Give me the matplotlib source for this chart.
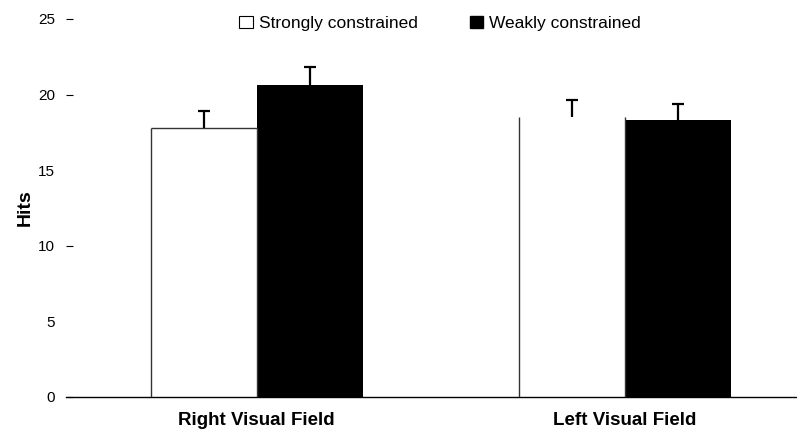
import matplotlib
matplotlib.use("Agg")
import matplotlib.pyplot as plt
import numpy as np
from matplotlib.patches import Patch

plt.rcParams['font.family'] = ['Liberation Sans', 'DejaVu Sans']

categories = ["Right Visual Field", "Left Visual Field"]
series_names = ["Strongly constrained", "Weakly constrained"]
strong = [17.8, 18.5]
strong_err = [1.1, 1.15]
weak = [20.65, 18.3]
weak_err = [1.15, 1.1]
yticks = [0, 5, 10, 15, 20, 25]
yticks_with_marks = [0, 10, 20, 25]

fig = plt.figure(figsize=(7.97, 4.32), dpi=100)
ax = fig.add_axes([66/797, 1-397/432, 1-66/797, (397-19)/432])

x = np.arange(len(categories))
w = 106/368

bs = ax.bar(x - w/2, strong, w, color="white", linewidth=0, zorder=2)
bw = ax.bar(x + w/2, weak, w, color="black", linewidth=0, zorder=2)

# outlines of the white bars (top only for first group as in reference)
for i, b in enumerate(bs):
    x0 = b.get_x()
    ax.vlines(x0, 0, strong[i], color="#333333", lw=1.0, zorder=3)
    ax.vlines(x0 + w, 0, strong[i], color="#333333", lw=1.0, zorder=3)
    if i == 0:
        ax.hlines(strong[i], x0, x0 + w, color="#333333", lw=1.0, zorder=3)

for xs, vals, errs in [(x - w/2, strong, strong_err), (x + w/2, weak, weak_err)]:
    _, caps, _ = ax.errorbar(xs, vals, yerr=[np.zeros(2), errs], fmt="none",
                             ecolor="black", elinewidth=1.6, capsize=4,
                             capthick=1.6, zorder=4)
    caps[0].set_visible(False)

ax.set_xlim(-(256.5-66)/368, (797-256.5)/368)
ax.set_ylim(0, 25)
ax.set_yticks(yticks)
ax.set_yticklabels([str(t) for t in yticks], fontsize=11)
for t, tick in zip(yticks, ax.yaxis.get_major_ticks()):
    if t not in yticks_with_marks:
        tick.tick1line.set_visible(False)
ax.tick_params(axis="y", length=5, width=0.8, pad=8, direction="in")
ax.set_xticks(x)
ax.set_xticklabels(categories, fontsize=13.5, fontweight="bold")
ax.tick_params(axis="x", length=0, pad=11)
for s in ["top", "right", "left"]:
    ax.spines[s].set_visible(False)
ax.spines["bottom"].set_linewidth(1.0)
ax.set_ylabel("Hits", fontsize=14, fontweight="bold", labelpad=3)

handles = [Patch(facecolor="white", edgecolor="black", linewidth=0.8),
           Patch(facecolor="black", edgecolor="black")]
fig.legend(handles, series_names, loc="upper center", bbox_to_anchor=(0.552, 1.0),
           ncol=2, frameon=False, fontsize=12.5, handlelength=0.75, handleheight=0.75,
           handletextpad=0.35, columnspacing=3.0)

fig.savefig("out.png", dpi=100)
